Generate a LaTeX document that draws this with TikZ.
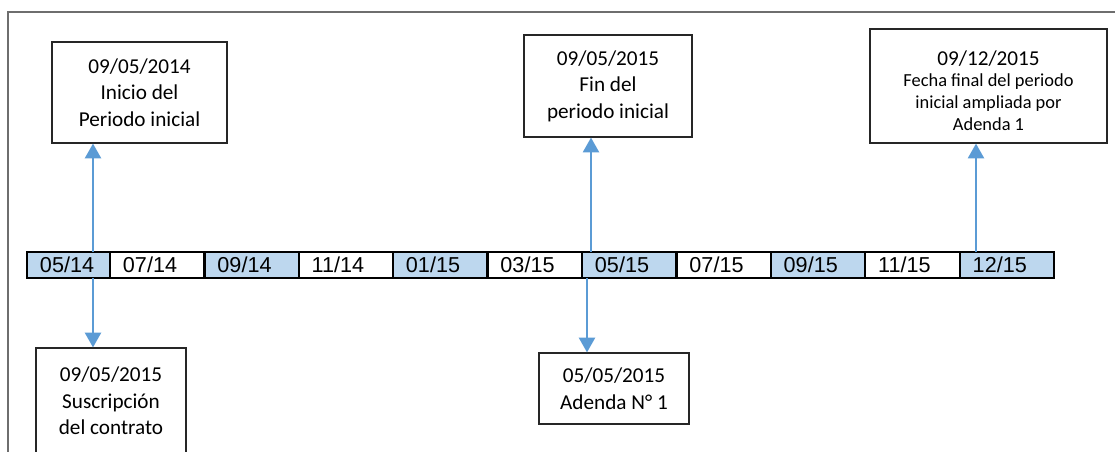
\documentclass[tikz,border=0pt]{standalone}
\usepackage{fontspec}
\setmainfont{Carlito}
\newfontfamily\arialf{Liberation Sans}
\usetikzlibrary{arrows.meta}
\definecolor{arrowblue}{HTML}{5B9BD5}
\definecolor{tlblue}{HTML}{BDD7EE}
\definecolor{framegrey}{HTML}{6E6E6E}
\tikzset{
  cell/.style={draw=black, line width=1.65pt, minimum height=19.5pt, inner xsep=9.75pt, inner ysep=0pt,
    text width=#1, align=left, font=\arialf\fontsize{16.2}{19}\selectfont},
  bluecell/.style={cell=#1, fill=tlblue},
  whitecell/.style={cell=#1, fill=white},
  infobox/.style={draw=black!85, line width=0.9pt, fill=white, inner sep=0pt, align=center,
    font=\fontsize{15.9}{19.9}\selectfont},
  arr/.style={draw=arrowblue, line width=1.5pt, -{Triangle[width=12pt,length=11pt]}}
}
\begin{document}
\begin{tikzpicture}[x=0.75pt,y=-0.75pt]
\useasboundingbox (0,0) rectangle (1115,451);
% frame
\draw[framegrey, line width=1.5pt] (8,480) -- (8,12) -- (1125,12);
% timeline
\node[bluecell=42.75pt]  (c1)  at (68.5,265)   {05/14};
\node[whitecell=51.4pt]  (c2)  at (157.25,265) {07/14};
\node[bluecell=51.4pt]   (c3)  at (251.75,265) {09/14};
\node[whitecell=51.4pt]  (c4)  at (346,265)    {11/14};
\node[bluecell=51.4pt]   (c5)  at (440.25,265) {01/15};
\node[whitecell=51.4pt]  (c6)  at (534.75,265) {03/15};
\node[bluecell=51.4pt]   (c7)  at (629.25,265) {05/15};
\node[whitecell=51.4pt]  (c8)  at (723.75,265) {07/15};
\node[bluecell=51.4pt]   (c9)  at (818,265)    {09/15};
\node[whitecell=51.4pt]  (c10) at (912.5,265)  {11/15};
\node[bluecell=51.4pt]   (c11) at (1007,265)   {12/15};
% boxes
\node[infobox, minimum width=131.25pt, minimum height=75.75pt] (b1) at (139.5,92.5)
  {09/05/2014\\Inicio del\\Periodo inicial};
\node[infobox, minimum width=126pt, minimum height=76.5pt] (b2) at (608,86)
  {09/05/2015\\Fin del\\periodo inicial};
\node[infobox, minimum width=177.75pt, minimum height=85.5pt, font=\fontsize{13.8}{16.3}\selectfont] (b3) at (988.5,86)
  {\rule{0pt}{17.5pt}{\fontsize{15.9}{16.3}\selectfont 09/12/2015}\\Fecha final del periodo\\inicial ampliada por\\Adenda 1};
\node[infobox, minimum width=112.5pt, minimum height=79.5pt] (b4) at (111,401)
  {09/05/2015\\Suscripción\\del contrato};
\node[infobox, minimum width=112.5pt, minimum height=53.25pt] (b5) at (614,388.5)
  {05/05/2015\\Adenda N° 1};
% arrow anchors on the timeline
\coordinate (p1) at (93,252);
\coordinate (q1) at (93,278);
\coordinate (p2) at (591,252);
\coordinate (q2) at (587,278);
\coordinate (p3) at (976,252);
% arrows
\draw[arr] (p1) -- (p1 |- b1.south);
\draw[arr] (q1) -- (q1 |- b4.north);
\draw[arr] (p2) -- (p2 |- b2.south);
\draw[arr] (q2) -- (q2 |- b5.north);
\draw[arr] (p3) -- (p3 |- b3.south);
\end{tikzpicture}
\end{document}
